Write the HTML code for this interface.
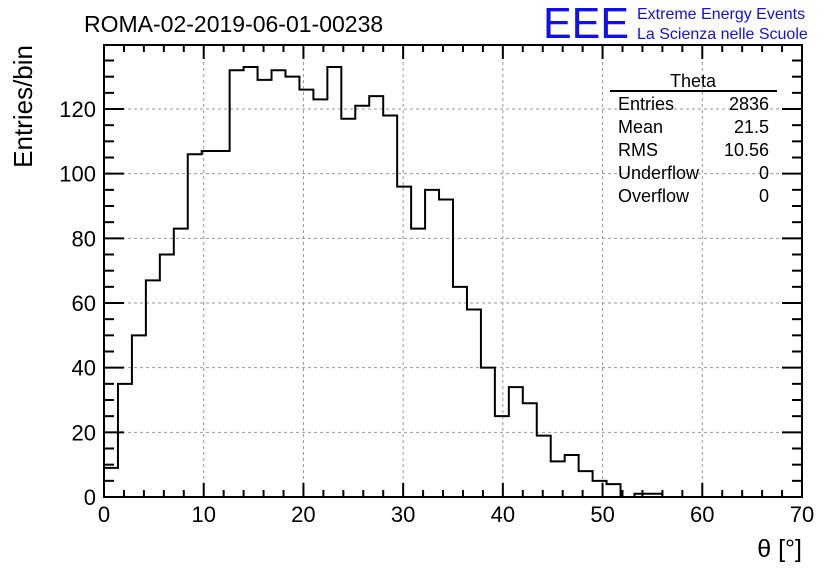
<!DOCTYPE html>
<html><head><meta charset="utf-8"><style>
body{margin:0;background:#fff;}
svg{display:block;font-family:"Liberation Sans",sans-serif;}
</style></head><body>
<svg width="836" height="572">
<rect x="0" y="0" width="836" height="572" fill="#fff"/>
<g id="grid"></g>
<g id="hist"></g>
<rect x="104" y="45" width="698" height="452" fill="none" stroke="#000" stroke-width="2"/>
<g id="axes"></g>
<text x="84" y="32" font-size="23">ROMA-02-2019-06-01-00238</text>
<text x="543" y="38" font-size="44" fill="#1010ee" textLength="86" lengthAdjust="spacingAndGlyphs">EEE</text>
<text x="637" y="19" font-size="16" fill="#1010ee">Extreme Energy Events</text>
<text x="637" y="39" font-size="16" fill="#1010ee">La Scienza nelle Scuole</text>
<text x="32" y="45" font-size="26" transform="rotate(-90 32 45)" text-anchor="end">Entries/bin</text>
<text x="802" y="557" font-size="25" text-anchor="end">θ [°]</text>
<g font-size="18">
<text x="693" y="87" text-anchor="middle">Theta</text>
<line x1="610" y1="91" x2="777" y2="91" stroke="#000" stroke-width="2"/>
<text x="618" y="110">Entries</text><text x="769" y="110" text-anchor="end">2836</text>
<text x="618" y="133">Mean</text><text x="769" y="133" text-anchor="end">21.5</text>
<text x="618" y="156">RMS</text><text x="769" y="156" text-anchor="end">10.56</text>
<text x="618" y="179">Underflow</text><text x="769" y="179" text-anchor="end">0</text>
<text x="618" y="202">Overflow</text><text x="769" y="202" text-anchor="end">0</text>
</g>
</svg>
<script>
const binCounts=[9,35,50,67,75,83,106,107,107,132,133,129,132,130,126,123,133,117,121,124,118,96,83,95,92,65,58,40,25,34,29,19,11,13,8,5,4,0,1,1,0,0,0,0,0,0,0,0,0,0];
const xTicks=[0,10,20,30,40,50,60,70];
const yTicks=[0,20,40,60,80,100,120];
const xMin=0,xMax=70,yMin=0,yMax=139.8;
const X0=104,X1=802,Y0=497,Y1=45;
const NS='http://www.w3.org/2000/svg';
function sx(v){return X0+(v-xMin)/(xMax-xMin)*(X1-X0);}
function sy(v){return Y0-(v-yMin)/(yMax-yMin)*(Y0-Y1);}
function mk(t,a,p){const e=document.createElementNS(NS,t);for(const k in a)e.setAttribute(k,a[k]);p.appendChild(e);return e;}
const grid=document.getElementById('grid'),axes=document.getElementById('axes'),hist=document.getElementById('hist');
xTicks.forEach(v=>{
 if(v>xMin&&v<xMax){const g=mk('line',{x1:sx(v),x2:sx(v),y1:Y0,y2:Y1,stroke:'#999','stroke-dasharray':'3,3'},grid);
 
 }
 mk('line',{x1:sx(v),x2:sx(v),y1:Y0,y2:Y0-14,stroke:'#000','stroke-width':2},axes);
 mk('line',{x1:sx(v),x2:sx(v),y1:Y1,y2:Y1+14,stroke:'#000','stroke-width':2},axes);
 const t=mk('text',{x:sx(v),y:522,'font-size':22,'text-anchor':'middle'},axes);t.textContent=v;
 
 
});
for(let v=xMin;v<=xMax;v+=2){if(v%10==0)continue;
 mk('line',{x1:sx(v),x2:sx(v),y1:Y0,y2:Y0-7,stroke:'#000','stroke-width':2},axes);
 mk('line',{x1:sx(v),x2:sx(v),y1:Y1,y2:Y1+7,stroke:'#000','stroke-width':2},axes);}
yTicks.forEach(v=>{
 if(v>yMin){const g=mk('line',{x1:X0,x2:X1,y1:sy(v),y2:sy(v),stroke:'#999','stroke-dasharray':'3,3'},grid);
 
 }
 mk('line',{x1:X0,x2:X0+20,y1:sy(v),y2:sy(v),stroke:'#000','stroke-width':2},axes);
 mk('line',{x1:X1,x2:X1-20,y1:sy(v),y2:sy(v),stroke:'#000','stroke-width':2},axes);
 const t=mk('text',{x:96,y:sy(v)+8,'font-size':22,'text-anchor':'end'},axes);t.textContent=v;
 
 
});
for(let v=yMin;v<=yMax;v+=5){if(v%20==0)continue;
 mk('line',{x1:X0,x2:X0+10,y1:sy(v),y2:sy(v),stroke:'#000','stroke-width':2},axes);
 mk('line',{x1:X1,x2:X1-10,y1:sy(v),y2:sy(v),stroke:'#000','stroke-width':2},axes);}
const w=(xMax-xMin)/binCounts.length;
let d='M'+sx(0)+','+sy(0);
binCounts.forEach((c,i)=>{d+=' L'+sx(i*w)+','+sy(c)+' L'+sx((i+1)*w)+','+sy(c);});
d+=' L'+sx(xMax)+','+sy(0);
const p=mk('path',{d:d,fill:'none',stroke:'#000','stroke-width':2},hist);


</script>
</body></html>
